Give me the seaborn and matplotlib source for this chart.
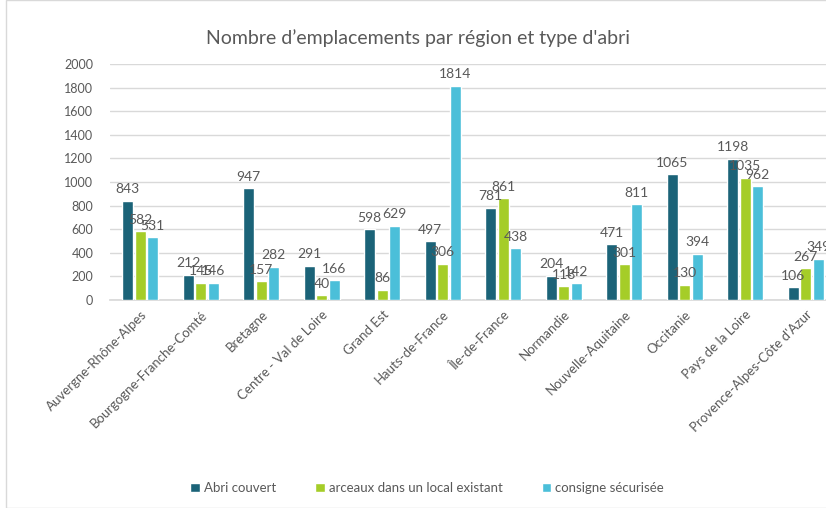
import pandas as pd
import matplotlib.pyplot as plt
import seaborn as sns
from matplotlib.patches import Rectangle

regions = ["Auvergne-Rhône-Alpes", "Bourgogne-Franche-Comté", "Bretagne",
           "Centre - Val de Loire", "Grand Est", "Hauts-de-France",
           "Île-de-France", "Normandie", "Nouvelle-Aquitaine", "Occitanie",
           "Pays de la Loire", "Provence-Alpes-Côte d'Azur"]
abri_couvert = [843, 212, 947, 291, 598, 497, 781, 204, 471, 1065, 1198, 106]
arceaux = [582, 145, 157, 40, 86, 306, 861, 118, 301, 130, 1035, 267]
consigne = [531, 146, 282, 166, 629, 1814, 438, 142, 811, 394, 962, 349]
series = ["Abri couvert", "arceaux dans un local existant", "consigne sécurisée"]
yticks = list(range(0, 2001, 200))


def main():
    sns.set_theme(style="white")
    plt.rcParams['font.family'] = ['Lato', 'DejaVu Sans']
    grey = "#595959"

    df = pd.DataFrame({
        "region": regions * 3,
        "type": [series[0]] * 12 + [series[1]] * 12 + [series[2]] * 12,
        "value": abri_couvert + arceaux + consigne,
    })

    fig = plt.figure(figsize=(8.26, 5.08), dpi=100)
    ax = fig.add_axes([110 / 826, 1 - 300 / 508, 726 / 826, 236 / 508])
    colors = ["#1B6378", "#A5CD28", "#4BBFD9"]
    sns.barplot(data=df, x="region", y="value", hue="type", palette=colors,
                saturation=1, width=0.62, gap=0.1, errorbar=None, ax=ax, zorder=3)

    for cont in ax.containers:
        ax.bar_label(cont, padding=4, fontsize=10, color=grey)

    ax.set_ylim(0, 2000)
    ax.set_yticks(yticks)
    ax.yaxis.grid(True, color="#D9D9D9", linewidth=1, zorder=0)
    ax.tick_params(axis="y", labelsize=9, colors=grey, length=0, pad=12)
    ax.tick_params(axis="x", labelsize=9.5, colors=grey, length=0, pad=6)
    plt.setp(ax.get_xticklabels(), rotation=45, ha="right", rotation_mode="anchor")
    for s in ["top", "right", "left"]:
        ax.spines[s].set_visible(False)
    ax.spines["bottom"].set_color("#D9D9D9")
    ax.set_xlabel("")
    ax.set_ylabel("")

    ax.legend(loc="center", bbox_to_anchor=(0.437, -0.797),
              ncol=3, frameon=False, fontsize=9.5, handlelength=0.7, handleheight=0.7,
              handletextpad=0.3, columnspacing=3.0, labelcolor=grey)

    fig.text(418 / 826, 1 - 38 / 508, "Nombre d\u2019emplacements par région et type d'abri",
             ha="center", va="center", fontsize=14, color=grey)
    fig.patches.append(Rectangle((6 / 826, 0), 830 / 826, 1, transform=fig.transFigure,
                                 fill=False, edgecolor="#D9D9D9", linewidth=1))

    fig.savefig("out.png", dpi=100)


if __name__ == "__main__":
    main()
